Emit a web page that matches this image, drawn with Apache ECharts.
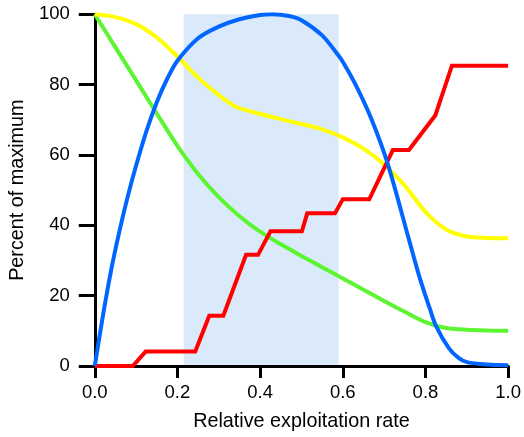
<!DOCTYPE html>
<html>
<head>
<meta charset="utf-8">
<script src="https://cdn.jsdelivr.net/npm/echarts@6/dist/echarts.min.js"></script>
<style>
  html, body { margin: 0; padding: 0; background: #fff; }
  #chart { width: 524px; height: 437px; }
</style>
</head>
<body>
<div id="chart"></div>
<script>
// Axis ticks
const xTicks = [0, 0.2, 0.4, 0.6, 0.8, 1.0];
const yTicks = [0, 20, 40, 60, 80, 100];

// Highlighted exploitation window
const shadeRange = [0.215, 0.59];

// Curves: [relative exploitation rate, percent of maximum]
const greenCurve = [
  [0, 100], [0.05, 90.6], [0.1, 81.2], [0.15, 71.8], [0.2, 62.6], [0.25, 54.6],
  [0.3, 48], [0.35, 42.6], [0.4, 38.2], [0.45, 34.6], [0.5, 31.3], [0.55, 28.1],
  [0.6, 24.9], [0.65, 21.7], [0.7, 18.5], [0.75, 15.4], [0.8, 12.5], [0.85, 10.8],
  [0.9, 10.3], [0.95, 10.1], [1.0, 10]
];
const yellowCurve = [
  [0, 100], [0.05, 99.2], [0.1, 97.2], [0.15, 93.4], [0.2, 88], [0.25, 82],
  [0.3, 77], [0.34, 73.8], [0.38, 72.3], [0.45, 70.2], [0.5, 68.8], [0.55, 67.3],
  [0.6, 65], [0.65, 61.8], [0.7, 57.3], [0.75, 51.3], [0.8, 43.8], [0.85, 38.8],
  [0.9, 36.8], [0.95, 36.4], [1.0, 36.3]
];
const redSteps = [
  [0, 0], [0.092, 0], [0.123, 4.1], [0.243, 4.1], [0.277, 14.3], [0.311, 14.3],
  [0.366, 31.6], [0.395, 31.6], [0.425, 38.3], [0.501, 38.3], [0.514, 43.4],
  [0.581, 43.4], [0.6, 47.4], [0.664, 47.4], [0.721, 61.4], [0.76, 61.4],
  [0.824, 71.3], [0.864, 85.4], [1.0, 85.4]
];
const blueCurve = [
  [0, 0], [0.02, 14.5], [0.04, 27.5], [0.06, 38.5], [0.08, 48.3], [0.1, 57],
  [0.125, 66.8], [0.15, 75], [0.175, 81.6], [0.2, 86.8], [0.25, 93.2], [0.3, 96.5],
  [0.35, 98.6], [0.4, 99.8], [0.43, 100], [0.47, 99.5], [0.5, 98.3], [0.55, 94],
  [0.585, 89], [0.6, 86.5], [0.633, 79.5], [0.67, 70], [0.71, 57], [0.76, 36],
  [0.785, 25.5], [0.81, 16.5], [0.825, 11.5], [0.857, 5], [0.88, 2.3], [0.9, 1.1],
  [0.95, 0.4], [1.0, 0.2]
];

const FONT = '"Liberation Sans", Arial, sans-serif';
const frameLine = { show: true, lineStyle: { color: '#000', width: 3 } };

const chart = echarts.init(document.getElementById('chart'), null, { renderer: 'canvas' });

const curve = (name, data, color, z) => ({
  name, type: 'line', data, z, smooth: 0.3,
  showSymbol: false, lineStyle: { color, width: 4 }
});

chart.setOption({
  animation: false,
  backgroundColor: '#fff',
  grid: { left: 93.3, right: 14.7, top: 14.3, bottom: 69.7, containLabel: false },
  xAxis: [
    {
      type: 'value', min: 0, max: 1, interval: 0.2, position: 'bottom', z: 1.5,
      axisLine: frameLine,
      axisTick: { show: true, inside: false, length: 12, lineStyle: { color: '#000', width: 3 } },
      axisLabel: {
        margin: 17, color: '#000', fontSize: 18.5, fontFamily: FONT,
        formatter: v => xTicks.find(t => Math.abs(t - v) < 1e-9).toFixed(1)
      },
      splitLine: { show: false },
      name: 'Relative exploitation rate', nameLocation: 'middle', nameGap: 46,
      nameTextStyle: { color: '#000', fontSize: 19.8, fontFamily: FONT }
    },
    {
      type: 'value', min: 0, max: 1, position: 'top', z: 1.5,
      axisLine: frameLine, axisTick: { show: false }, axisLabel: { show: false },
      splitLine: { show: false }
    }
  ],
  yAxis: [
    {
      type: 'value', min: 0, max: 100, interval: 20, position: 'left', z: 1.5,
      axisLine: frameLine,
      axisTick: { show: true, inside: false, length: 16, lineStyle: { color: '#000', width: 3 } },
      axisLabel: {
        margin: 25, color: '#000', fontSize: 18.5, fontFamily: FONT,
        formatter: v => String(yTicks.find(t => Math.abs(t - v) < 1e-9))
      },
      splitLine: { show: false },
      name: 'Percent of maximum', nameLocation: 'middle', nameGap: 62,
      nameTextStyle: { color: '#000', fontSize: 19.8, fontFamily: FONT }
    },
    {
      type: 'value', min: 0, max: 100, position: 'right', z: 1.5,
      axisLine: frameLine, axisTick: { show: false }, axisLabel: { show: false },
      splitLine: { show: false }
    }
  ],
  series: [
    {
      // shaded band behind the curves
      type: 'line', data: [], z: 1, silent: true,
      markArea: {
        silent: true,
        itemStyle: { color: '#dbeafb', opacity: 1 },
        data: [[{ xAxis: shadeRange[0], yAxis: 0 }, { xAxis: shadeRange[1], yAxis: 100 }]]
      }
    },
    curve('green', greenCurve, '#5cf532', 2),
    curve('yellow', yellowCurve, '#ffff00', 3),
    {
      name: 'red', type: 'line', data: redSteps, z: 4, smooth: false,
      showSymbol: false, lineStyle: { color: '#ff0000', width: 4, join: 'miter' }
    },
    curve('blue', blueCurve, '#0066ff', 5)
  ]
});
</script>
</body>
</html>
